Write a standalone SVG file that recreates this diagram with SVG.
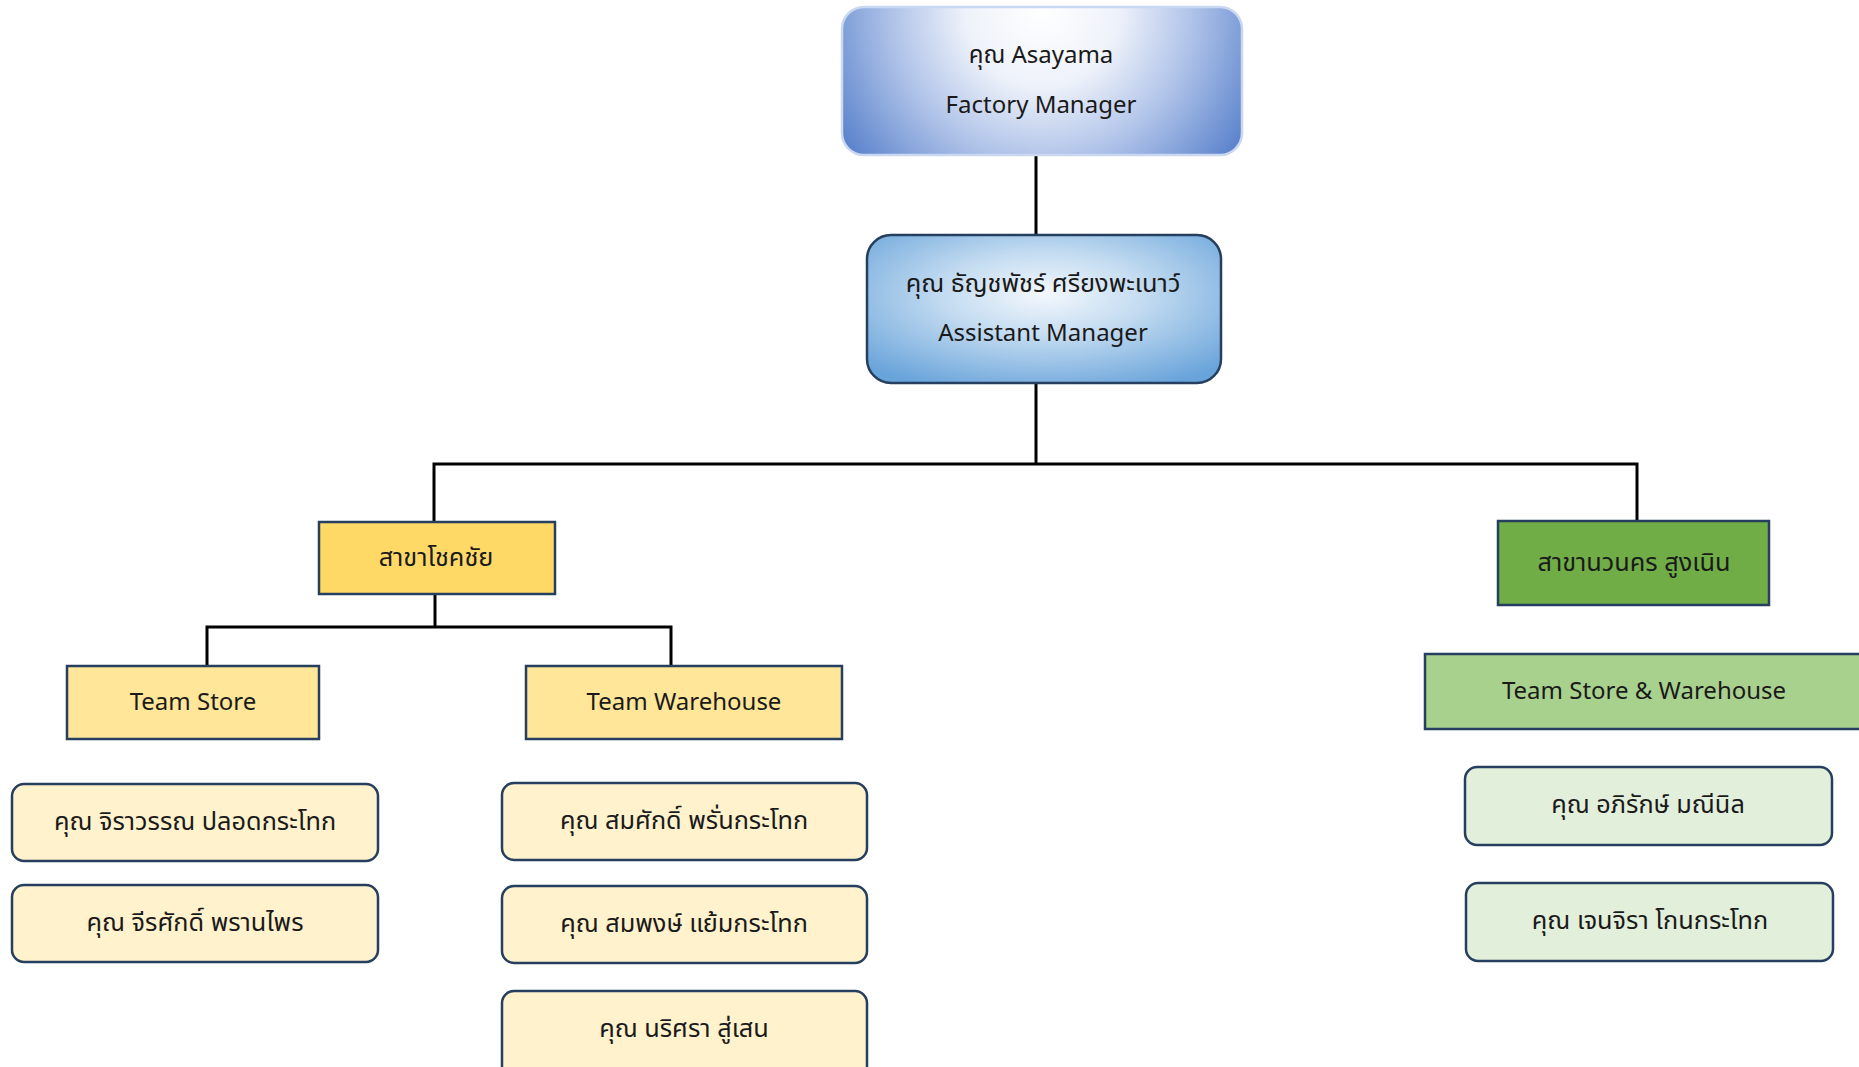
<svg xmlns="http://www.w3.org/2000/svg" width="1859" height="1067" viewBox="0 0 1859 1067">
<defs>
<radialGradient id="gTop" gradientUnits="userSpaceOnUse" cx="1042" cy="10" fx="1042" fy="10" r="255">
<stop offset="0" stop-color="#ffffff"/>
<stop offset="0.3" stop-color="#eef2fa"/>
<stop offset="0.6" stop-color="#adc1e8"/>
<stop offset="1" stop-color="#4a76c6"/>
</radialGradient>
<radialGradient id="gAsst" cx="50%" cy="40%" r="70%">
<stop offset="0" stop-color="#f4f8fd"/>
<stop offset="0.4" stop-color="#c4dcf1"/>
<stop offset="1" stop-color="#68a3da"/>
</radialGradient>
<style>
text{font-family:"Noto Sans","Noto Sans Thai","Leelawadee UI","Open Sans",sans-serif;font-size:24px;fill:#1a1a1a;text-anchor:middle}
.th{font-size:25.3px}
.box{stroke:#263f5e;stroke-width:2.5}
.br1{fill:#ffd966}
.team1{fill:#ffe699}
.p1{fill:#fff2cc}
.br2{fill:#70ad47}
.team2{fill:#a9d18e}
.p2{fill:#e2efda}
.conn{stroke:#000;stroke-width:3;fill:none}
</style>
</defs>
<rect width="1859" height="1067" fill="#ffffff"/>
<g id="connectors">
<path class="conn" d="M1036 155V235"/>
<path class="conn" d="M1036 383V464"/>
<path class="conn" d="M434 521V464H1637V521"/>
<path class="conn" d="M435 594V627"/>
<path class="conn" d="M207 666V627H671V666"/>
</g>
<g id="n-factory-manager">
<rect x="842" y="7" width="400" height="148" rx="22" fill="url(#gTop)" stroke="#c9d8f0" stroke-width="2.5"/>
<text x="1041" y="63">คุณ Asayama</text>
<text x="1041" y="113">Factory Manager</text>
</g>
<g id="n-assistant-manager">
<rect x="867" y="235" width="354" height="148" rx="24" fill="url(#gAsst)" class="box"/>
<text class="th" x="1043" y="292">คุณ ธัญชพัชร์ ศรียงพะเนาว์</text>
<text x="1043" y="341">Assistant Manager</text>
</g>
<g id="n-chokchai">
<rect x="319" y="522" width="236" height="72" class="box br1"/>
<text class="th" x="436" y="566">สาขาโชคชัย</text>
</g>
<g id="n-team-store">
<rect x="67" y="666" width="252" height="73" class="box team1"/>
<text x="193" y="710">Team Store</text>
</g>
<g id="n-team-warehouse">
<rect x="526" y="666" width="316" height="73" class="box team1"/>
<text x="684" y="710">Team Warehouse</text>
</g>
<g id="n-p1">
<rect x="12" y="784" width="366" height="77" rx="12" class="box p1"/>
<text class="th" x="195" y="830">คุณ จิราวรรณ ปลอดกระโทก</text>
</g>
<g id="n-p2">
<rect x="12" y="885" width="366" height="77" rx="12" class="box p1"/>
<text class="th" x="195" y="931">คุณ จีรศักดิ์ พรานไพร</text>
</g>
<g id="n-p3">
<rect x="502" y="783" width="365" height="77" rx="12" class="box p1"/>
<text class="th" x="684" y="829">คุณ สมศักดิ์ พรั่นกระโทก</text>
</g>
<g id="n-p4">
<rect x="502" y="886" width="365" height="77" rx="12" class="box p1"/>
<text class="th" x="684" y="932">คุณ สมพงษ์ แย้มกระโทก</text>
</g>
<g id="n-p5">
<rect x="502" y="991" width="365" height="90" rx="12" class="box p1"/>
<text class="th" x="684" y="1037">คุณ นริศรา สู่เสน</text>
</g>
<g id="n-nawanakorn">
<rect x="1498" y="521" width="271" height="84" class="box br2"/>
<text class="th" x="1634" y="571">สาขานวนคร สูงเนิน</text>
</g>
<g id="n-team-store-warehouse">
<rect x="1425" y="654" width="450" height="75" class="box team2"/>
<text x="1644" y="699">Team Store &amp; Warehouse</text>
</g>
<g id="n-p6">
<rect x="1465" y="767" width="367" height="78" rx="12" class="box p2"/>
<text class="th" x="1648" y="813">คุณ อภิรักษ์ มณีนิล</text>
</g>
<g id="n-p7">
<rect x="1466" y="883" width="367" height="78" rx="12" class="box p2"/>
<text class="th" x="1650" y="929">คุณ เจนจิรา โกนกระโทก</text>
</g>
</svg>
